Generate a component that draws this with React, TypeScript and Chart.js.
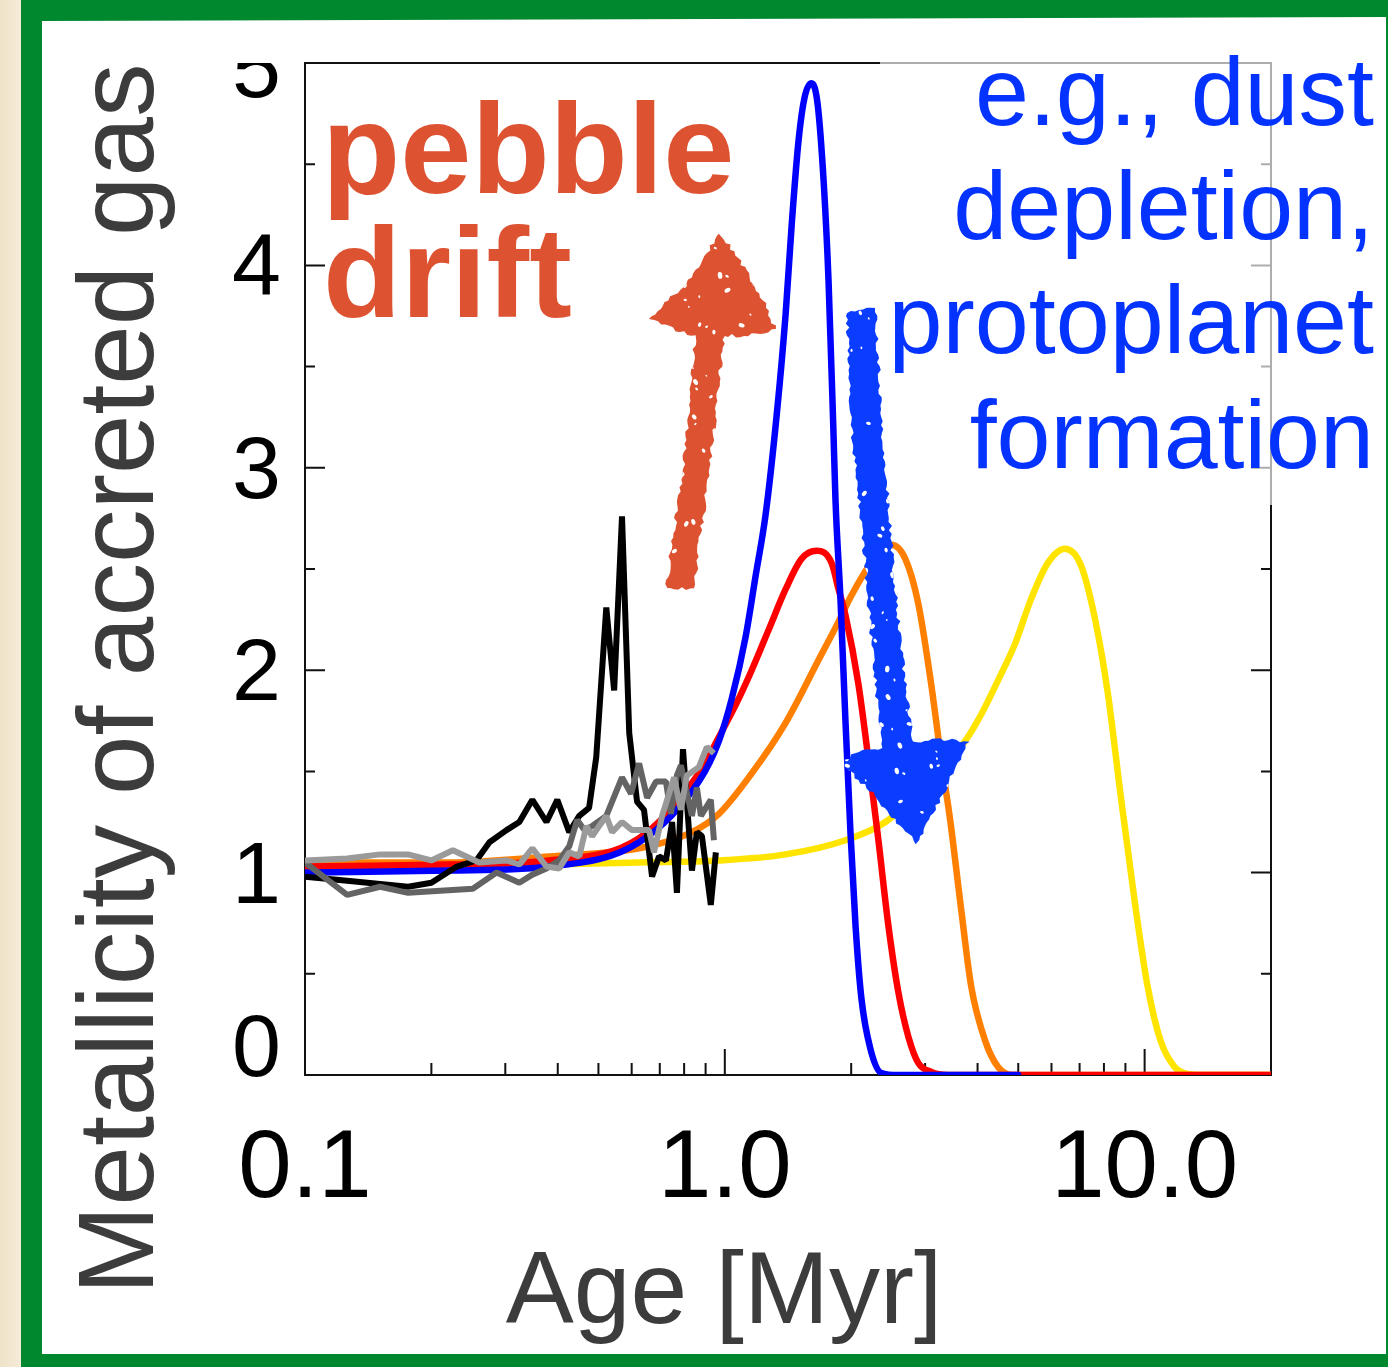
import React, { useEffect, useRef } from "react";
import { Chart, registerables } from "chart.js";

Chart.register(...registerables);

// ---------- data (Age in Myr, metallicity of accreted gas) ----------
const blueAge = [0.1, 0.221, 0.382, 0.625, 0.867, 0.968, 1.039, 1.122, 1.185, 1.251, 1.329, 1.396, 1.443, 1.499, 1.549, 1.609, 1.663, 1.719, 1.766, 1.815, 1.835, 1.886, 1.939, 1.992, 2.048, 2.115, 2.222, 2.36, 2.59, 5.0];
const blueZ = [1.0, 1.01, 1.03, 1.15, 1.45, 1.65, 1.86, 2.17, 2.47, 2.77, 3.26, 3.76, 4.2, 4.62, 4.83, 4.9, 4.8, 4.42, 3.93, 3.17, 2.84, 2.35, 1.74, 1.2, 0.74, 0.38, 0.13, 0.01, 0.0, 0.0];

const redAge = [0.1, 0.221, 0.382, 0.625, 0.867, 0.968, 1.068, 1.159, 1.272, 1.396, 1.523, 1.654, 1.796, 1.866, 1.939, 2.081, 2.198, 2.322, 2.452, 2.59, 2.736, 2.889, 3.102, 3.404, 20];
const redZ = [1.03, 1.04, 1.06, 1.17, 1.49, 1.67, 1.84, 2.0, 2.2, 2.4, 2.55, 2.59, 2.53, 2.4, 2.27, 1.93, 1.56, 1.16, 0.74, 0.41, 0.19, 0.06, 0.015, 0.0, 0.0];

const orangeAge = [0.1, 0.221, 0.382, 0.625, 0.835, 0.968, 1.159, 1.396, 1.672, 1.866, 2.003, 2.284, 2.493, 2.691, 2.889, 3.102, 3.277, 3.442, 3.655, 3.861, 4.169, 4.476, 4.859, 20];
const orangeZ = [1.05, 1.05, 1.08, 1.12, 1.2, 1.29, 1.49, 1.74, 2.05, 2.24, 2.37, 2.56, 2.62, 2.55, 2.33, 1.93, 1.56, 1.26, 0.82, 0.44, 0.17, 0.04, 0.0, 0.0];

const yellowAge = [0.1, 0.382, 0.625, 0.968, 1.396, 1.939, 2.413, 3.002, 3.736, 4.077, 4.476, 4.912, 5.361, 5.883, 6.457, 7.047, 7.606, 8.168, 8.77, 9.467, 10.16, 10.91, 11.78, 12.65, 13.73, 20];
const yellowZ = [1.03, 1.04, 1.05, 1.06, 1.09, 1.16, 1.25, 1.43, 1.65, 1.78, 1.95, 2.13, 2.35, 2.53, 2.6, 2.52, 2.26, 1.89, 1.38, 0.86, 0.44, 0.17, 0.04, 0.005, 0.0, 0.0];

const blackAge = [0.1, 0.126, 0.176, 0.2, 0.23, 0.256, 0.275, 0.302, 0.324, 0.348, 0.376, 0.399, 0.426, 0.45, 0.475, 0.494, 0.522, 0.545, 0.569, 0.592, 0.618, 0.642, 0.671, 0.697, 0.724, 0.749, 0.769, 0.795, 0.835, 0.858, 0.882, 0.926, 0.952];
const blackZ = [0.98, 0.96, 0.93, 0.95, 1.03, 1.06, 1.15, 1.21, 1.25, 1.36, 1.25, 1.36, 1.2, 1.28, 1.32, 1.57, 2.31, 1.9, 2.76, 1.69, 1.35, 1.31, 0.98, 1.08, 1.06, 1.25, 0.9, 1.61, 1.01, 1.2, 1.18, 0.84, 1.1];

const darkGreyAge = [0.1, 0.126, 0.151, 0.176, 0.251, 0.286, 0.324, 0.348, 0.376, 0.403, 0.426, 0.445, 0.463, 0.483, 0.522, 0.569, 0.598, 0.625, 0.653, 0.686, 0.724, 0.744, 0.769, 0.786, 0.835, 0.858, 0.877, 0.926, 0.942];
const darkGreyZ = [1.05, 0.89, 0.93, 0.9, 0.92, 1.0, 0.95, 0.99, 1.02, 1.06, 1.13, 1.26, 1.21, 1.23, 1.28, 1.47, 1.39, 1.54, 1.37, 1.45, 1.45, 1.29, 1.48, 1.53, 1.28, 1.42, 1.28, 1.36, 1.16];

const lightGreyAge = [0.1, 0.126, 0.151, 0.176, 0.2, 0.225, 0.26, 0.302, 0.324, 0.348, 0.376, 0.403, 0.426, 0.45, 0.468, 0.483, 0.502, 0.522, 0.539, 0.569, 0.601, 0.66, 0.678, 0.709, 0.757, 0.786, 0.812, 0.867, 0.906, 0.942];
const lightGreyZ = [1.06, 1.07, 1.09, 1.09, 1.06, 1.11, 1.05, 1.06, 1.04, 1.12, 1.03, 1.02, 1.1, 1.08, 1.23, 1.18, 1.23, 1.28, 1.2, 1.25, 1.21, 1.21, 1.1, 1.28, 1.47, 1.31, 1.48, 1.52, 1.62, 1.59];

const xMajorTicks = [0.1, 1, 10];
const xTickLabels = ["0.1", "1.0", "10.0"];
const xMinorTicks = [0.2, 0.3, 0.4, 0.5, 0.6, 0.7, 0.8, 0.9, 2, 3, 4, 5, 6, 7, 8, 9];
const yMajorTicks = [0, 1, 2, 3, 4, 5];
const yTickLabels = ["0", "1", "2", "3", "4", "5"];
const yMinorTicks = [0.5, 1.5, 2.5, 3.5, 4.5];

const xTitle = "Age [Myr]";
const yTitle = "Metallicity of accreted gas";
const redNote = ["pebble", "drift"];
const blueNote = ["e.g., dust", "depletion,", "protoplanet", "formation"];

const FONT = '"Liberation Sans", Arial, Helvetica, sans-serif';

const pts = (xs: number[], ys: number[]) => xs.map((x, i) => ({ x, y: ys[i] }));

function hash(n: number) {
  const s = Math.sin(n * 12.9898 + 4.1414) * 43758.5453;
  return s - Math.floor(s);
}

function roughShape(ctx: CanvasRenderingContext2D, poly: number[][], color: string, seed: number) {
  const path = new Path2D();
  let k = seed;
  poly.forEach(([x0, y0], i) => {
    const [x1, y1] = poly[(i + 1) % poly.length];
    const len = Math.hypot(x1 - x0, y1 - y0) || 1;
    const n = Math.max(1, Math.round(len / 4));
    const nx = -(y1 - y0) / len;
    const ny = (x1 - x0) / len;
    for (let j = 0; j < n; j++) {
      const t = j / n;
      k += 1;
      const d = (hash(k) - 0.5) * 4;
      const px = x0 + (x1 - x0) * t + nx * d;
      const py = y0 + (y1 - y0) * t + ny * d;
      if (i === 0 && j === 0) path.moveTo(px, py);
      else path.lineTo(px, py);
    }
  });
  path.closePath();
  ctx.fillStyle = color;
  ctx.fill(path);
  const xs = poly.map((p) => p[0]);
  const ys = poly.map((p) => p[1]);
  const minX = Math.min(...xs), maxX = Math.max(...xs);
  const minY = Math.min(...ys), maxY = Math.max(...ys);
  ctx.save();
  ctx.clip(path);
  ctx.fillStyle = "#ffffff";
  for (let gx = minX; gx < maxX; gx += 7) {
    for (let gy = minY; gy < maxY; gy += 7) {
      const h = hash(gx * 3.71 + gy * 17.13 + seed);
      if (h > 0.93) {
        const r = 0.7 + hash(gx * 1.3 + gy * 2.9) * 1.6;
        ctx.beginPath();
        ctx.ellipse(gx + hash(gy + seed) * 5, gy + hash(gx - seed) * 5, r * 1.5, r, hash(gx + gy) * 3, 0, Math.PI * 2);
        ctx.fill();
      }
    }
  }
  ctx.restore();
}

const bgPlugin = {
  id: "bg",
  beforeDraw(chart: any) {
    const ctx: CanvasRenderingContext2D = chart.ctx;
    const W = chart.width, H = chart.height;
    ctx.save();
    const g = ctx.createLinearGradient(0, 0, 22, 0);
    g.addColorStop(0, "#efe2c8");
    g.addColorStop(1, "#f6ecd9");
    ctx.fillStyle = g;
    ctx.fillRect(0, 0, W, H);
    ctx.fillStyle = "#00882e";
    ctx.fillRect(21, 0, W - 21, H);
    ctx.fillStyle = "#ffffff";
    ctx.beginPath();
    ctx.moveTo(42, 21);
    ctx.lineTo(1386, 17);
    ctx.lineTo(1386, 1354);
    ctx.lineTo(42, 1354);
    ctx.closePath();
    ctx.fill();
    ctx.restore();
  },
};

const axesPlugin = {
  id: "axesDraw",
  beforeDatasetsDraw(chart: any) {
    const ctx: CanvasRenderingContext2D = chart.ctx;
    const a = chart.chartArea;
    const x = chart.scales.x, y = chart.scales.y;
    ctx.save();
    ctx.strokeStyle = "#111111";
    ctx.lineWidth = 2;
    ctx.strokeRect(a.left, a.top, a.right - a.left, a.bottom - a.top);
    ctx.beginPath();
    xMajorTicks.forEach((v) => {
      const px = x.getPixelForValue(v);
      ctx.moveTo(px, a.bottom);
      ctx.lineTo(px, a.bottom - 26);
    });
    xMinorTicks.forEach((v) => {
      const px = x.getPixelForValue(v);
      ctx.moveTo(px, a.bottom);
      ctx.lineTo(px, a.bottom - 12);
    });
    yMajorTicks.forEach((v) => {
      const py = y.getPixelForValue(v);
      ctx.moveTo(a.left, py);
      ctx.lineTo(a.left + 20, py);
      ctx.moveTo(a.right, py);
      ctx.lineTo(a.right - 20, py);
    });
    yMinorTicks.forEach((v) => {
      const py = y.getPixelForValue(v);
      ctx.moveTo(a.left, py);
      ctx.lineTo(a.left + 10, py);
      ctx.moveTo(a.right, py);
      ctx.lineTo(a.right - 10, py);
    });
    ctx.stroke();

    ctx.fillStyle = "#000000";
    ctx.font = `96px ${FONT}`;
    ctx.textAlign = "center";
    ctx.textBaseline = "alphabetic";
    xMajorTicks.forEach((v, i) => {
      ctx.fillText(xTickLabels[i], x.getPixelForValue(v), a.bottom + 122);
    });
    ctx.font = `88px ${FONT}`;
    ctx.textAlign = "right";
    yMajorTicks.forEach((v, i) => {
      const py = y.getPixelForValue(v);
      if (v === 0) {
        ctx.fillText(yTickLabels[i], a.left - 24, a.bottom + 1);
      } else if (i === yMajorTicks.length - 1) {
        ctx.save();
        ctx.beginPath();
        ctx.rect(0, a.top, a.left, 200);
        ctx.clip();
        ctx.fillText(yTickLabels[i], a.left - 24, py + 34);
        ctx.restore();
      } else {
        ctx.fillText(yTickLabels[i], a.left - 24, py + 30);
      }
    });

    ctx.fillStyle = "#3c3c3c";
    ctx.font = `102px ${FONT}`;
    ctx.textAlign = "center";
    ctx.fillText(xTitle, 724, 1323);
    ctx.save();
    ctx.translate(153, 679);
    ctx.rotate(-Math.PI / 2);
    ctx.font = `107px ${FONT}`;
    ctx.fillText(yTitle, 0, 0);
    ctx.restore();
    ctx.restore();
  },
};

const overlayPlugin = {
  id: "overlay",
  afterDatasetsDraw(chart: any) {
    const ctx: CanvasRenderingContext2D = chart.ctx;
    ctx.save();
    ctx.fillStyle = "rgba(255,255,255,0.66)";
    ctx.fillRect(880, 40, 506, 465);

    ctx.fillStyle = "#0433ff";
    ctx.font = `97px ${FONT}`;
    ctx.textAlign = "right";
    ctx.textBaseline = "alphabetic";
    const blueBase = [125, 239, 353, 468];
    blueNote.forEach((t, i) => ctx.fillText(t, 1374, blueBase[i]));

    ctx.fillStyle = "#dd5332";
    ctx.font = `bold 128px ${FONT}`;
    ctx.textAlign = "left";
    ctx.fillText(redNote[0], 322, 193);
    ctx.fillText(redNote[1], 323, 317);

    roughShape(
      ctx,
      [
        [666, 588], [672, 545], [678, 503], [684, 460], [688, 420], [692, 378], [695, 337],
        [650, 320], [668, 300], [683, 287], [696, 270], [707, 253], [720, 233],
        [736, 255], [750, 277], [763, 300], [776, 330], [748, 335], [724, 336],
        [719, 378], [715, 420], [710, 460], [705, 503], [699, 545], [694, 588],
      ],
      "#dd5332",
      11
    );

    roughShape(
      ctx,
      [
        [847, 312], [875, 308], [879, 370], [882, 433], [889, 510], [895, 586], [901, 645], [907, 700], [913, 742],
        [940, 740], [968, 741], [955, 770], [942, 795], [930, 820], [917, 843],
        [900, 825], [885, 808], [870, 790], [856, 777], [843, 764], [855, 752], [882, 748],
        [877, 700], [872, 645], [867, 586], [860, 510], [852, 433], [849, 370],
      ],
      "#0a3dff",
      57
    );
    ctx.restore();
  },
};

export default function App() {
  const ref = useRef<HTMLCanvasElement>(null);
  useEffect(() => {
    const canvas = ref.current;
    if (!canvas) return;
    const smooth = { borderWidth: 6.5, pointRadius: 0, fill: false, cubicInterpolationMode: "monotone", borderJoinStyle: "round", borderCapStyle: "round" };
    const jagged = { borderWidth: 6, pointRadius: 0, fill: false, tension: 0, borderJoinStyle: "bevel" };
    const chart = new Chart(canvas, {
      type: "line",
      data: {
        datasets: [
          { label: "light grey", data: pts(lightGreyAge, lightGreyZ), borderColor: "#9a9a9a", order: 1, ...jagged },
          { label: "dark grey", data: pts(darkGreyAge, darkGreyZ), borderColor: "#646464", order: 2, ...jagged },
          { label: "black", data: pts(blackAge, blackZ), borderColor: "#000000", order: 3, ...jagged },
          { label: "blue", data: pts(blueAge, blueZ), borderColor: "#0000ff", order: 4, ...smooth },
          { label: "red", data: pts(redAge, redZ), borderColor: "#ff0000", order: 5, ...smooth },
          { label: "orange", data: pts(orangeAge, orangeZ), borderColor: "#ff7f00", order: 6, ...smooth },
          { label: "yellow", data: pts(yellowAge, yellowZ), borderColor: "#ffe400", order: 7, ...smooth },
        ],
      },
      options: {
        responsive: false,
        animation: false,
        devicePixelRatio: 1,
        elements: { line: { borderWidth: 6.5 }, point: { radius: 0 } },
        layout: { padding: { left: 305, top: 63, right: 117, bottom: 292 } },
        scales: {
          x: { type: "logarithmic", min: 0.1, max: 20, display: false },
          y: { type: "linear", min: 0, max: 5, display: false },
        },
        plugins: { legend: { display: false }, tooltip: { enabled: false } },
      },
      plugins: [bgPlugin, axesPlugin, overlayPlugin],
    } as any);
    return () => chart.destroy();
  }, []);
  return (
    <div style={{ position: "absolute", left: 0, top: 0, width: 1388, height: 1367, overflow: "hidden" }}>
      <canvas ref={ref} width={1388} height={1367} style={{ display: "block" }} />
    </div>
  );
}
